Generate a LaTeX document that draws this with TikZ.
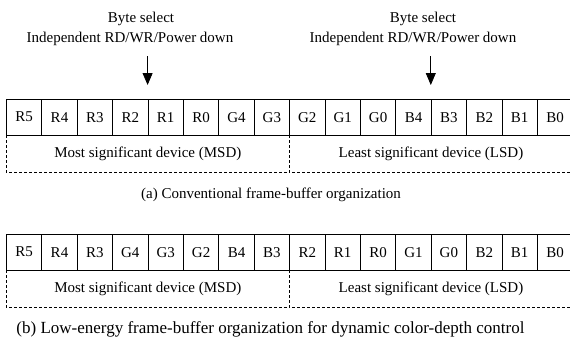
\documentclass[tikz,border=0pt]{standalone}
\usepackage{fontspec}
\setmainfont{Liberation Serif}
\usetikzlibrary{arrows.meta,calc}
\begin{document}
\begin{tikzpicture}[x=1pt,y=-1pt,
  cell/.style={draw, line width=0.8pt, minimum width=35.4pt, minimum height=35.5pt,
    inner sep=0pt, anchor=north west, font=\fontsize{15}{18}\selectfont},
  devbox/.style={minimum width=283.2pt, minimum height=36.5pt, inner sep=0pt,
    anchor=north west, font=\fontsize{15}{18}\selectfont},
  lbl/.style={inner sep=0pt, font=\fontsize{15}{18}\selectfont},
  dashline/.style={line width=0.8pt, dash pattern=on 3pt off 2pt},
  arr/.style={line width=0.8pt, -{Triangle[length=12pt,width=10pt]}}]
\clip (0,0) rectangle (570,341);
% top row
\foreach \t [count=\i from 0] in {R5,R4,R3,R2,R1,R0,G4,G3,G2,G1,G0,B4,B3,B2,B1,B0}
  \node[cell] (a\i) at ({6+\i*35.4},99) {\t};
\node[devbox] (amsd) at (a0.south west) {Most significant device (MSD)};
\node[devbox] (alsd) at (a8.south west) {Least significant device (LSD)};
\draw[dashline] (amsd.north west) -- (amsd.south west) -- (amsd.south east) -- (amsd.north east);
\draw[dashline] (alsd.north west) -- (alsd.south west) -- (alsd.south east) -- (alsd.north east);
% labels and arrows
\node[lbl] (bs1) at (141,19) {Byte select};
\node[lbl] (ind1) at (130,39) {Independent RD/WR/Power down};
\node[lbl] (bs2) at (423,19) {Byte select};
\node[lbl] (ind2) at (413,39) {Independent RD/WR/Power down};
\coordinate (t1) at ($(a4.north west)+(0,-43)$);
\coordinate (h1) at ($(a4.north west)+(0,-14)$);
\coordinate (t2) at ($(a12.north west)+(0,-43)$);
\coordinate (h2) at ($(a12.north west)+(0,-14)$);
\draw[arr] (t1) -- (h1);
\draw[arr] (t2) -- (h2);
\node[lbl] (capa) at (271,195) {(a) Conventional frame-buffer organization};
% bottom row
\foreach \t [count=\i from 0] in {R5,R4,R3,G4,G3,G2,B4,B3,R2,R1,R0,G1,G0,B2,B1,B0}
  \node[cell] (b\i) at ({6+\i*35.4},234) {\t};
\node[devbox] (bmsd) at (b0.south west) {Most significant device (MSD)};
\node[devbox] (blsd) at (b8.south west) {Least significant device (LSD)};
\draw[dashline] (bmsd.north west) -- (bmsd.south west) -- (bmsd.south east) -- (bmsd.north east);
\draw[dashline] (blsd.north west) -- (blsd.south west) -- (blsd.south east) -- (blsd.north east);
\node[lbl, font=\fontsize{17}{20}\selectfont] (capb) at (270.5,329) {(b) Low-energy frame-buffer organization for dynamic color-depth control};
\end{tikzpicture}
\end{document}
